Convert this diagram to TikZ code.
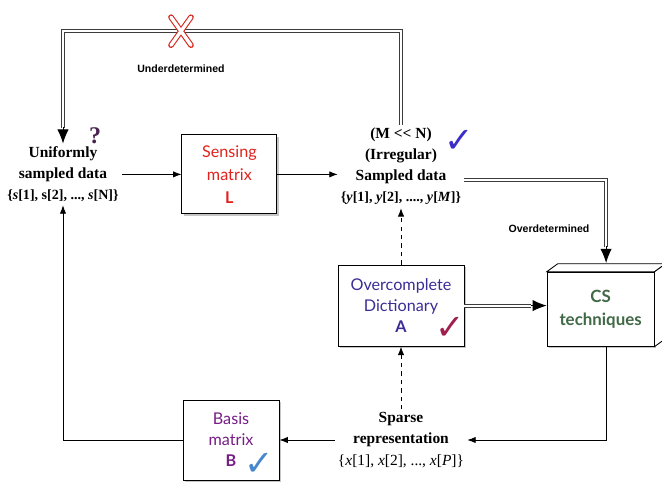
\documentclass[tikz,border=0pt]{standalone}
\usepackage{fontspec}
\setmainfont{Liberation Serif}
\newfontfamily\boxfont{Lato}
\newfontfamily\labelfont{Liberation Sans}
\newfontfamily\tickfont{DejaVu Sans}
\usetikzlibrary{positioning,shadows,arrows.meta}
\definecolor{sensred}{RGB}{225,35,30}
\definecolor{dictblue}{RGB}{60,45,150}
\definecolor{csgreen}{RGB}{65,105,70}
\definecolor{basispurple}{RGB}{120,30,135}
\definecolor{qpurple}{RGB}{75,35,80}
\definecolor{tickblue}{RGB}{60,45,200}
\definecolor{tickred}{RGB}{160,30,80}
\definecolor{ticklight}{RGB}{70,135,205}
\definecolor{xred}{RGB}{215,40,30}
\definecolor{dblgray}{RGB}{60,60,60}

\begin{document}
\begin{tikzpicture}[on grid,>={Latex[length=6pt,width=4.5pt]},line width=0.6pt]
	\tikzstyle{box}=[draw, fill=white, inner sep=0pt, align=center, drop shadow={opacity=0.45, shadow xshift=1.6pt, shadow yshift=-1.6pt}, font=\boxfont\fontsize{11.5}{15}\selectfont]
	\tikzstyle{data}=[align=center, inner sep=2pt, font=\fontsize{11}{15}\selectfont\bfseries]
	\tikzstyle{dbl}=[draw=dblgray, double, double distance=1.4pt, line width=0.7pt]
	\tikzstyle{big}=[-{Latex[length=10pt,width=8pt]}]
	\tikzstyle{tick}=[inner sep=0pt, font=\tickfont\fontsize{25}{25}\selectfont]
	\useasboundingbox (0,0) rectangle (16.55,-12.075);
		\node[data] (U) at (1.575,-4.36) {Uniformly\\sampled data\\{\fontsize{10}{12}\selectfont\{\textit{s}[1], s[2], ..., \textit{s}[N]\}}};
		\node[box, minimum width=2.375cm, minimum height=1.975cm, text=sensred, font=\boxfont\fontsize{11.5}{16.5}\selectfont] (L) [right=4.16cm of U] {Sensing\\matrix\\\textbf{L}};
		\node[data] (Y) [above right=0.2cm and 4.29cm of L] {(M <{}< N)\\(Irregular)\\Sampled data\\{\fontsize{10}{12}\selectfont\{\textit{y}[1], \textit{y}[2], ...., \textit{y}[\textit{M}]\}}};
		\node[box, minimum width=3.15cm, minimum height=2.03cm, text=dictblue] (A) [below=3.48cm of Y] {Overcomplete\\Dictionary\\\textbf{A}};
		\node[data] (X) [below=3.36cm of A] {Sparse\\representation\\{\mdseries\{\textit{x}[1], \textit{x}[2], ..., \textit{x}[\textit{P}]\}}};
		\node[box, minimum width=2.4cm, minimum height=2.0cm, text=basispurple] (B) [left=4.25cm of X] {Basis\\matrix\\\textbf{B}};
		\node[box, minimum width=2.675cm, minimum height=1.85cm, text=csgreen, font=\boxfont\bfseries\fontsize{12}{16}\selectfont] (CS) [below right=0.09cm and 4.99cm of A] {CS\\techniques};
			\draw[fill=white] (CS.north west) -- ++(0.275,0.2) -- ([shift={(0.275,0.2)}]CS.north east) -- (CS.north east) -- cycle;
			\draw[fill=white] (CS.north east) -- ++(0.275,0.2) -- ([shift={(0.275,0.2)}]CS.south east) -- (CS.south east) -- cycle;
		\node[font=\fontsize{17}{17}\selectfont\bfseries, text=qpurple] (q) [above right=0.975cm and 0.8cm of U] {?};
		\node[tick, text=tickblue] (t1) [above right=0.63cm and 1.45cm of Y] {✓};
		\node[tick, text=tickred] (t2) [below right=0.56cm and 1.225cm of A] {✓};
		\node[tick, text=ticklight] (t3) [below right=0.6cm and 0.7cm of B] {✓};
		\coordinate (cross) at (4.525,-0.78);
		\node[font=\labelfont\bfseries\fontsize{7.5}{9}\selectfont] (under) [below=0.72cm of cross] {Underdetermined};
		\node[font=\labelfont\bfseries\fontsize{7.5}{9}\selectfont] (over) [above left=2.0cm and 1.29cm of CS] {Overdetermined};
		\coordinate (csin) at (A.east -| CS.west);
			\draw[->] (U) -- (L);
			\draw[->] (L) -- (L -| Y.west);
			\draw[dbl] (Y.north) -- (Y.north |- cross) -| ([yshift=0.4cm]U.north);
			\draw[big] ([yshift=0.42cm]U.north) -- (U.north);
			\draw[dbl] ([yshift=-0.33cm]Y.east) -| ([xshift=0.1375cm,yshift=0.62cm]CS.north);
			\draw[big] ([xshift=0.1375cm,yshift=0.64cm]CS.north) -- ([xshift=0.1375cm,yshift=0.22cm]CS.north);
			\draw[dbl] (A.east) -- ([xshift=-0.38cm]csin);
			\draw[big] ([xshift=-0.4cm]csin) -- (csin);
			\draw[->, dashed] (A) -- (Y);
			\draw[->, dashed] (X) -- (A);
			\draw[->] ([xshift=0.1375cm]CS.south) |- (X.east);
			\draw[->] (X) -- (B);
			\draw[->] (B) -| (U);
			\draw[xred, line width=4pt, line cap=round] ([shift={(-0.25,0.35)}]cross) -- ([shift={(0.25,-0.35)}]cross) ([shift={(0.25,0.35)}]cross) -- ([shift={(-0.25,-0.35)}]cross);
			\draw[white, line width=2.4pt, line cap=round] ([shift={(-0.25,0.35)}]cross) -- ([shift={(0.25,-0.35)}]cross) ([shift={(0.25,0.35)}]cross) -- ([shift={(-0.25,-0.35)}]cross);
\end{tikzpicture}
\end{document}
